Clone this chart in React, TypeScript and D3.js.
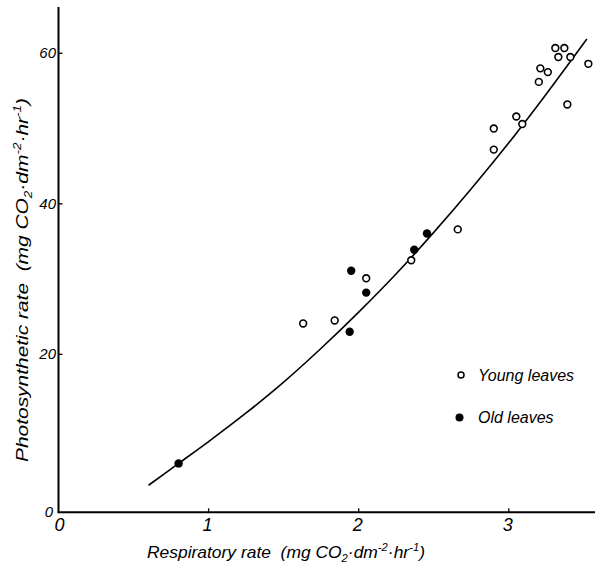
import React from "react";
import * as d3 from "d3";

// Respiration vs photosynthesis of leaves
const youngResp = [1.63, 1.84, 2.05, 2.35, 2.66, 2.90, 2.90, 3.05, 3.09, 3.20, 3.21, 3.26, 3.31, 3.33, 3.37, 3.41, 3.39, 3.53];
const youngPhoto = [24.1, 24.5, 30.1, 32.5, 36.6, 47.2, 50.0, 51.6, 50.6, 56.2, 58.0, 57.5, 60.7, 59.5, 60.7, 59.5, 53.2, 58.6];

const oldResp = [0.80, 1.95, 1.94, 2.05, 2.37, 2.455];
const oldPhoto = [5.5, 31.1, 23.0, 28.2, 33.9, 36.05];

// Fitted regression curve
const curveResp = [0.6, 0.8, 1.0, 1.25, 1.5, 1.75, 2.0, 2.25, 2.5, 2.75, 3.0, 3.25, 3.52];
const curvePhoto = [2.6, 5.5, 8.4, 12.2, 16.3, 20.8, 25.6, 30.7, 36.2, 42.0, 48.1, 54.6, 61.9];

const xTicks = [0, 1, 2, 3];
const yTicks = [0, 20, 40, 60];

const W = 595;
const H = 567;
const FONT = "'Liberation Sans', Arial, sans-serif";
const GAP = "\u00a0\u00a0";

export default function App() {
  const x = d3.scaleLinear().domain([0, 1]).range([58.5, 208.6]);
  const y = d3.scaleLinear().domain([0, 60]).range([504.8, 53.3]);
  const axisY = y(-1);
  const axisX = x(0);
  const yTop = 7;

  const line = d3
    .line<number>()
    .x((_, i) => x(curveResp[i]))
    .y((d) => y(d))
    .curve(d3.curveCatmullRom);

  return (
    <svg width={W} height={H} style={{ position: "absolute", left: 0, top: 0, background: "#fff" }}>
      <rect width={W} height={H} fill="#fff" />
      {/* axes */}
      <line x1={axisX} y1={yTop} x2={axisX} y2={axisY} stroke="#000" strokeWidth={2} />
      <line x1={axisX - 1} y1={axisY} x2={W} y2={axisY} stroke="#000" strokeWidth={2} />
      {xTicks.slice(1).map((t) => (
        <line key={"xt" + t} x1={x(t)} x2={x(t)} y1={axisY} y2={axisY - 4} stroke="#000" strokeWidth={1.3} />
      ))}
      {yTicks.slice(1).map((t) => (
        <line key={"yt" + t} x1={axisX} x2={axisX + 4} y1={y(t)} y2={y(t)} stroke="#000" strokeWidth={1.3} />
      ))}
      {/* tick labels */}
      {xTicks.map((t) => (
        <text key={"xl" + t} x={x(t) + (t === 0 ? 1 : -1)} y={axisY + 19} fontFamily={FONT} fontStyle="italic" fontSize={18} textAnchor="middle">
          {t}
        </text>
      ))}
      {yTicks.map((t) => (
        <text key={"yl" + t} x={t === 0 ? 53 : 56} y={(t === 0 ? axisY : y(t)) + 5} fontFamily={FONT} fontStyle="italic" fontSize={15} textAnchor="end">
          {t}
        </text>
      ))}
      {/* axis titles */}
      <text x={147} y={558} fontFamily={FONT} fontStyle="italic" fontSize={17} textLength={278} lengthAdjust="spacingAndGlyphs">
        {"Respiratory rate" + GAP + "(mg CO"}<tspan fontSize={11} dy={4}>2</tspan>
        <tspan dy={-4}>·dm</tspan>
        <tspan fontSize={11} dy={-7}>-2</tspan>
        <tspan dy={7}>·hr</tspan>
        <tspan fontSize={11} dy={-7}>-1</tspan>
        <tspan dy={7}>)</tspan>
      </text>
      <text
        transform="translate(28,462) rotate(-90)"
        fontFamily={FONT}
        fontStyle="italic"
        fontSize={17}
        textLength={364}
        lengthAdjust="spacingAndGlyphs"
      >
        {"Photosynthetic rate" + GAP + "(mg CO"}<tspan fontSize={11} dy={4}>2</tspan>
        <tspan dy={-4}>·dm</tspan>
        <tspan fontSize={11} dy={-7}>-2</tspan>
        <tspan dy={7}>·hr</tspan>
        <tspan fontSize={11} dy={-7}>-1</tspan>
        <tspan dy={7}>)</tspan>
      </text>
      {/* regression curve */}
      <path d={line(curvePhoto) || ""} fill="none" stroke="#000" strokeWidth={1.6} />
      {/* points */}
      {youngResp.map((r, i) => (
        <circle key={"y" + i} cx={x(r)} cy={y(youngPhoto[i])} r={3.4} fill="#fff" stroke="#000" strokeWidth={1.6} />
      ))}
      {oldResp.map((r, i) => (
        <circle key={"o" + i} cx={x(r)} cy={y(oldPhoto[i])} r={4.2} fill="#000" />
      ))}
      {/* legend */}
      <circle cx={461} cy={375} r={3} fill="#fff" stroke="#000" strokeWidth={1.5} />
      <text x={478} y={381} fontFamily={FONT} fontStyle="italic" fontSize={16}>Young leaves</text>
      <circle cx={459.5} cy={417.5} r={4} fill="#000" />
      <text x={478} y={423} fontFamily={FONT} fontStyle="italic" fontSize={16}>Old leaves</text>
    </svg>
  );
}
